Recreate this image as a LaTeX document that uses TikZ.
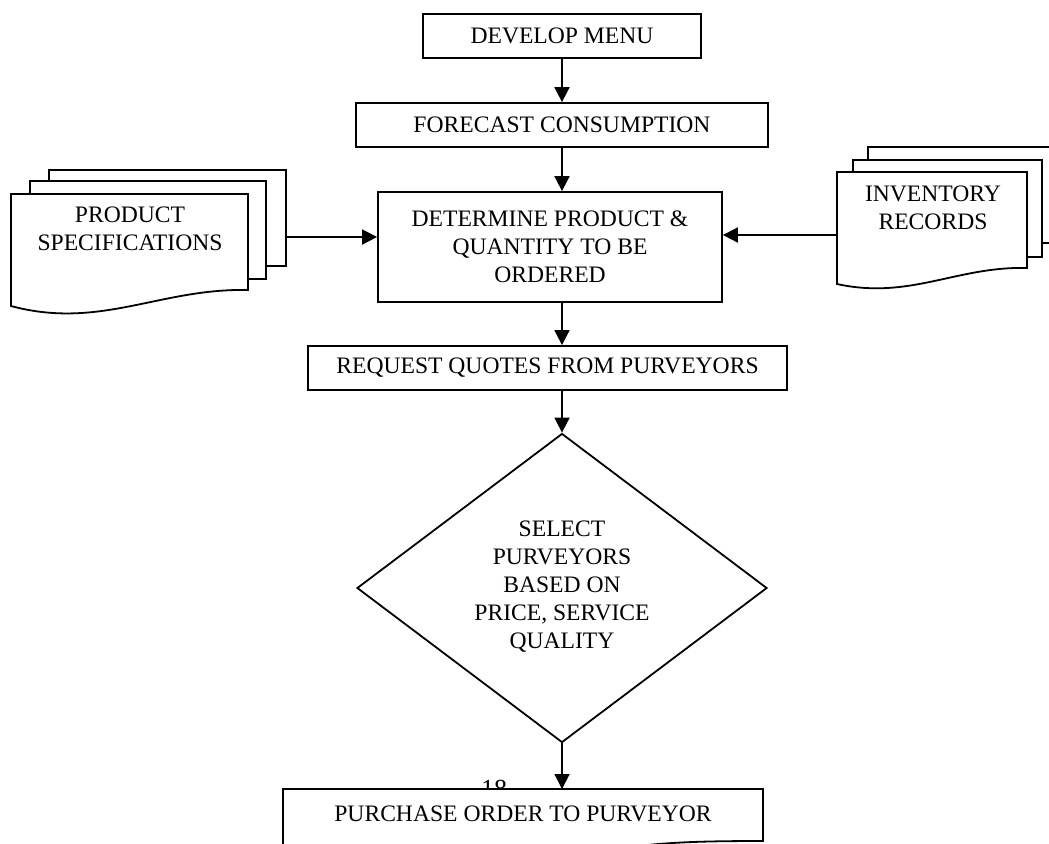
\documentclass[tikz,border=0pt]{standalone}
\usepackage{fontspec}
\setmainfont{Liberation Serif}
\usetikzlibrary{shapes.geometric,arrows.meta}
\begin{document}
\begin{tikzpicture}[x=0.5pt,y=-0.5pt,
  every node/.style={font=\fontsize{11.8}{14}\selectfont},
  box/.style={draw, line width=0.9pt, fill=white, inner sep=0pt, align=center},
  arr/.style={line width=0.9pt, -{Triangle[length=7.5pt,width=7.5pt]}},
  ln/.style={line width=0.9pt}]
\useasboundingbox (0,0) rectangle (1049,843);
\clip (0,0) rectangle (1049,843);
% main column
\node[box, minimum width=139pt, minimum height=22pt] (dev) at (562,36) {DEVELOP MENU};
\node[box, minimum width=206pt, minimum height=22pt] (fc) at (562,125) {FORECAST CONSUMPTION};
\node[box, minimum width=172pt, minimum height=55pt] (det) at (550,247) {DETERMINE PRODUCT \&\\QUANTITY TO BE\\ORDERED};
\node[box, minimum width=239.5pt, minimum height=22pt] (req) at (547.5,368) {REQUEST QUOTES FROM PURVEYORS};
\node[diamond, draw, line width=0.9pt, fill=white, minimum width=205pt, minimum height=154.5pt, inner sep=0pt] (sel) at (562,588) {};
\node[align=center] (seltext) at (562,587) {SELECT\\PURVEYORS\\BASED ON\\PRICE, SERVICE\\QUALITY};
% page number partly hidden
\node[font=\fontsize{13}{14}\selectfont, anchor=base] (pg) at (494,797) {18};
% purchase order box (cut at the bottom)
\coordinate (poN) at (562,789);
\draw[ln, fill=white] (283,900) -- (283,789) -- (763,789) -- (763,841) .. controls (700,841) and (650,842) .. (600,852) -- (283,900);
\node (po) at (523,814) {PURCHASE ORDER TO PURVEYOR};
% product specifications
\draw[ln, fill=white] (49,170) rectangle (286,266);
\draw[ln, fill=white] (30,181) rectangle (266,279);
\draw[ln, fill=white] (11,194) -- (248,194) -- (248,290) .. controls (160,288) and (100,330) .. (11,306) -- cycle;
\node[align=center] (ps) at (130,229) {PRODUCT\\SPECIFICATIONS};
\coordinate (psR) at (286,237);
% inventory records
\draw[ln, fill=white] (868,147) rectangle (1070,243);
\draw[ln, fill=white] (853,160) rectangle (1042,257);
\draw[ln, fill=white] (837,172) -- (1027,172) -- (1027,268) .. controls (957,266) and (910,300) .. (837,284) -- cycle;
\node[align=center] (ir) at (933,208) {INVENTORY\\RECORDS};
\coordinate (irL) at (837,235);
% connectors
\draw[arr] (dev.south) -- (fc.north);
\draw[arr] (fc.south) -- (fc.south |- det.north);
\draw[arr] (det.south -| dev.south) -- (req.north -| dev.south);
\draw[arr] (req.south -| dev.south) -- (sel.north);
\draw[arr] (sel.south) -- (sel.south |- poN);
\draw[arr] (psR) -- (det.west |- psR);
\draw[arr] (irL) -- (det.east |- irL);
\end{tikzpicture}
\end{document}
